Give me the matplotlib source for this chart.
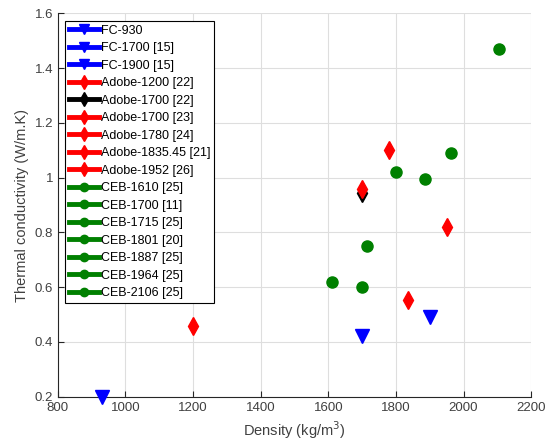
import matplotlib
matplotlib.use('Agg')
import matplotlib.pyplot as plt
from matplotlib.ticker import FormatStrFormatter

plt.rcParams['font.family'] = ['Liberation Sans', 'DejaVu Sans']

# data
labels = ['FC-930', 'FC-1700 [15]', 'FC-1900 [15]',
          'Adobe-1200 [22]', 'Adobe-1700 [22]', 'Adobe-1700 [23]',
          'Adobe-1780 [24]', 'Adobe-1835.45 [21]', 'Adobe-1952 [26]',
          'CEB-1610 [25]', 'CEB-1700 [11]', 'CEB-1715 [25]', 'CEB-1801 [20]',
          'CEB-1887 [25]', 'CEB-1964 [25]', 'CEB-2106 [25]']
density = [930, 1700, 1900,
           1200, 1700, 1700, 1780, 1835.45, 1952,
           1610, 1700, 1715, 1801, 1887, 1964, 2106]
conductivity = [0.20, 0.42, 0.49,
                0.46, 0.945, 0.96, 1.10, 0.555, 0.82,
                0.62, 0.60, 0.75, 1.02, 0.995, 1.09, 1.47]
groups = ['FC'] * 3 + ['Adobe'] * 6 + ['CEB'] * 7

# styles
style = {'FC': dict(color='#0000ff', marker='v', markersize=10),
         'Adobe': dict(color='#ff0000', marker='d', markersize=9),
         'CEB': dict(color='#008000', marker='o', markersize=8)}

fig = plt.figure(figsize=(5.51, 4.48), dpi=100)
ax = fig.add_axes([0.105, 0.1145, 0.859, 0.8555])

for name, x, y, g in zip(labels, density, conductivity, groups):
    st = dict(style[g])
    if name == 'Adobe-1700 [22]':
        st['color'] = 'black'
    ax.plot([x], [y], linestyle='-', linewidth=3.5, label=name,
            markeredgewidth=1, markerfacecolor=st['color'],
            markeredgecolor=st['color'], clip_on=False, zorder=3, **st)

ax.set_xlim(800, 2200)
ax.set_ylim(0.2, 1.6)
ax.set_xticks(range(800, 2201, 200))
ax.set_yticks([0.2, 0.4, 0.6, 0.8, 1.0, 1.2, 1.4, 1.6])
ax.yaxis.set_major_formatter(FormatStrFormatter('%g'))

ax.grid(True, color='#dedede', linewidth=0.8)
ax.set_axisbelow(True)
for side in ['top', 'right']:
    ax.spines[side].set_visible(False)
for side in ['left', 'bottom']:
    ax.spines[side].set_color('#262626')
    ax.spines[side].set_linewidth(0.8)
ax.tick_params(direction='in', length=4, width=0.8, colors='#262626',
               labelsize=9.5, labelcolor='#404040')

ax.set_xlabel('Density (kg/m$^3$)', fontsize=10.5, color='#404040')
ax.set_ylabel('Thermal conductivity (W/m.K)', fontsize=10.5, color='#404040')

leg = ax.legend(loc='upper left', fontsize=9, frameon=True, fancybox=False,
                edgecolor='black', framealpha=1, handlelength=2.4,
                labelspacing=0.44, borderaxespad=0.6, borderpad=0.3,
                handletextpad=0.15, markerscale=0.75)
leg.get_frame().set_linewidth(0.8)

fig.savefig('out.png', dpi=100)
